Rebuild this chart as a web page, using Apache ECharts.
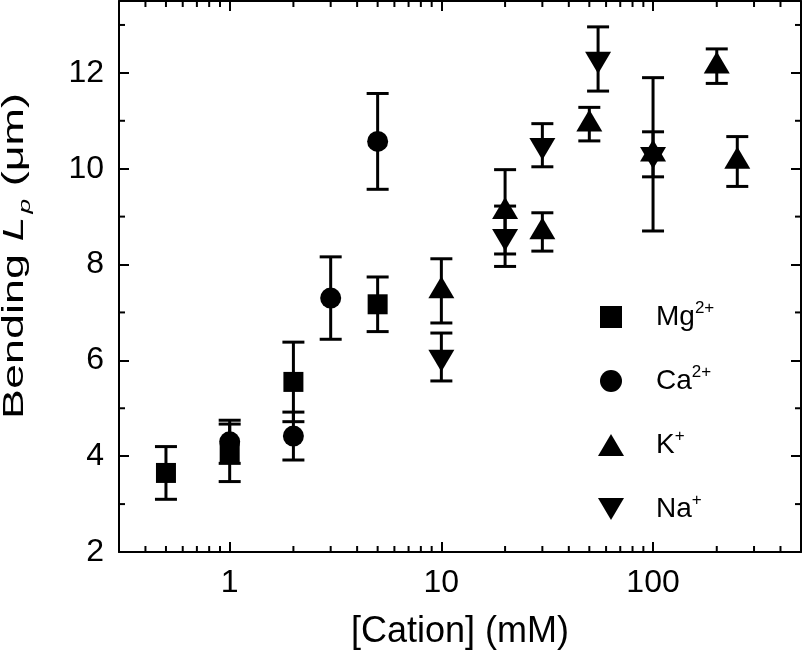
<!DOCTYPE html>
<html><head><meta charset="utf-8">
<script src="https://cdn.jsdelivr.net/npm/echarts@6/dist/echarts.min.js"></script>
<style>html,body{margin:0;padding:0;background:#fff}#c{width:805px;height:657px}</style>
</head><body><div id="c"></div>
<script>
// ---- data ----
const mgX = [0.5, 1, 2, 5];
const mgY = [3.65, 4.07, 5.55, 7.17];
const mgErr = [0.55, 0.6, 0.83, 0.57];

const caX = [1, 2, 3, 5];
const caY = [4.3, 4.42, 7.3, 10.57];
const caErr = [0.45, 0.5, 0.86, 1.0];

const kX = [10, 20, 30, 50, 100, 200, 250];
const kY = [7.45, 9.1, 8.68, 10.93, 10.3, 12.14, 10.15];
const kErr = [0.67, 0.88, 0.4, 0.35, 0.47, 0.36, 0.52];

const naX = [10, 20, 30, 55, 100];
const naY = [6.07, 8.59, 10.49, 12.29, 10.3];
const naErr = [0.5, 0.63, 0.45, 0.67, 1.6];

const seriesNames = ['Mg2+', 'Ca2+', 'K+', 'Na+'];
const xMinorTicks = [0.4,0.5,0.6,0.7,0.8,0.9, 2,3,4,5,6,7,8,9, 20,30,40,50,60,70,80,90, 200,300,400];
const yMinorTicks = [3, 5, 7, 9, 11, 13];

// ---- styling helpers ----
const FONT = '"Liberation Sans", Arial, Helvetica, sans-serif';
const BLACK = '#000';
const SQUARE = 'path://M0,0H10V10H0Z';
const CIRCLE = 'path://M0,10A10,10,0,1,1,20,10A10,10,0,1,1,0,10Z';
const UP = 'path://M13,0L26,22H0Z';
const DOWN = 'path://M0,0H26L13,22Z';

function pts(xs, ys) { return xs.map((x, i) => [x, ys[i]]); }
function errs(xs, ys, es) { return xs.map((x, i) => [x, ys[i] - es[i], ys[i] + es[i]]); }

function errRender(params, api) {
  const x = api.value(0), lo = api.value(1), hi = api.value(2);
  const p1 = api.coord([x, hi]), p2 = api.coord([x, lo]);
  const cw = 11, st = { stroke: BLACK, lineWidth: 3 };
  return { type: 'group', children: [
    { type: 'line', shape: { x1: p1[0], y1: p1[1], x2: p2[0], y2: p2[1] }, style: st },
    { type: 'line', shape: { x1: p1[0] - cw, y1: p1[1], x2: p1[0] + cw, y2: p1[1] }, style: st },
    { type: 'line', shape: { x1: p2[0] - cw, y1: p2[1], x2: p2[0] + cw, y2: p2[1] }, style: st }
  ]};
}
function xMinorRender(params, api) {
  const cs = params.coordSys;
  const px = api.coord([api.value(0), api.value(1)])[0];
  const st = { stroke: BLACK, lineWidth: 2 };
  const b = cs.y + cs.height, t = cs.y;
  return { type: 'group', children: [
    { type: 'line', shape: { x1: px, y1: b, x2: px, y2: b - 6 }, style: st },
    { type: 'line', shape: { x1: px, y1: t, x2: px, y2: t + 6 }, style: st }
  ]};
}
function yMinorRender(params, api) {
  const cs = params.coordSys;
  const py = api.coord([api.value(0), api.value(1)])[1];
  const st = { stroke: BLACK, lineWidth: 2 };
  const l = cs.x, r = cs.x + cs.width;
  return { type: 'group', children: [
    { type: 'line', shape: { x1: l, y1: py, x2: l + 6, y2: py }, style: st },
    { type: 'line', shape: { x1: r, y1: py, x2: r - 6, y2: py }, style: st }
  ]};
}

const baseX = {
  type: 'log', logBase: 10, min: 0.3, max: 500,
  axisLine: { show: true, lineStyle: { color: BLACK, width: 2 } },
  axisTick: { show: true, inside: true, length: 10, lineStyle: { color: BLACK, width: 2 } },
  splitLine: { show: false }, minorTick: { show: false }
};
const baseY = {
  type: 'value', min: 2, max: 13.5, interval: 2,
  axisLine: { show: true, lineStyle: { color: BLACK, width: 2 } },
  axisTick: { show: true, inside: true, length: 10, lineStyle: { color: BLACK, width: 2 } },
  splitLine: { show: false }, minorTick: { show: false }
};
const markerStyle = { color: BLACK, opacity: 1 };

const chart = echarts.init(document.getElementById('c'), null, { renderer: 'canvas' });
chart.setOption({
  animation: false,
  backgroundColor: '#fff',
  grid: { left: 119, top: 1, width: 682, height: 551, containLabel: false, outerBoundsMode: 'none' },
  xAxis: [
    Object.assign({}, baseX, {
      position: 'bottom',
      axisLabel: { show: true, color: BLACK, fontSize: 32, fontFamily: FONT, margin: 15, showMinLabel: false, showMaxLabel: false },
      name: '[Cation] (mM)', nameLocation: 'middle', nameGap: 62, nameMoveOverlap: false,
      nameTextStyle: { color: BLACK, fontSize: 36, fontFamily: FONT }
    }),
    Object.assign({}, baseX, { position: 'top', axisLabel: { show: false } })
  ],
  yAxis: [
    Object.assign({}, baseY, {
      position: 'left',
      axisLabel: { show: true, color: BLACK, fontSize: 32, fontFamily: FONT, margin: 15, showMaxLabel: false }
    }),
    Object.assign({}, baseY, { position: 'right', axisLabel: { show: false } })
  ],
  graphic: [{
    type: 'text', x: 15, y: 256, rotation: Math.PI / 2, scaleX: 1.55, silent: true,
    style: {
      text: 'Bending {i|L}{sub|p} (\u03bcm)', fill: BLACK, font: '29px ' + FONT,
      align: 'center', verticalAlign: 'middle',
      rich: { i: { fontSize: 29, fontStyle: 'italic', fontFamily: FONT, fill: BLACK },
              sub: { fontSize: 17, fontStyle: 'italic', fontFamily: FONT, fill: BLACK, verticalAlign: 'bottom', padding: [0, 0, -4, 2] } }
    }
  }],
  legend: {
    orient: 'vertical', left: 598, top: 300, padding: 0,
    itemWidth: 80, itemHeight: 22, itemGap: 30, symbolKeepAspect: true,
    selectedMode: false,
    data: [
      { name: seriesNames[0], icon: SQUARE },
      { name: seriesNames[1], icon: CIRCLE },
      { name: seriesNames[2], icon: UP },
      { name: seriesNames[3], icon: DOWN }
    ],
    itemStyle: { opacity: 1 },
    formatter: n => n.replace(/^([A-Za-z]+)(.*)$/, '$1{sup|$2}'),
    textStyle: { color: BLACK, fontSize: 28, fontFamily: FONT, lineHeight: 34,
      rich: { sup: { fontSize: 17, fontFamily: FONT, color: BLACK, verticalAlign: 'top', lineHeight: 17 } } }
  },
  series: [
    { type: 'custom', name: 'xminor', renderItem: xMinorRender, data: xMinorTicks.map(v => [v, 2]), silent: true, clip: false, z: 1 },
    { type: 'custom', name: 'yminor', renderItem: yMinorRender, data: yMinorTicks.map(v => [1, v]), silent: true, clip: false, z: 1 },
    { type: 'custom', name: 'mgErr', renderItem: errRender, data: errs(mgX, mgY, mgErr), encode: { x: 0, y: [1, 2] }, silent: true, z: 2 },
    { type: 'custom', name: 'caErr', renderItem: errRender, data: errs(caX, caY, caErr), encode: { x: 0, y: [1, 2] }, silent: true, z: 2 },
    { type: 'custom', name: 'kErr', renderItem: errRender, data: errs(kX, kY, kErr), encode: { x: 0, y: [1, 2] }, silent: true, z: 2 },
    { type: 'custom', name: 'naErr', renderItem: errRender, data: errs(naX, naY, naErr), encode: { x: 0, y: [1, 2] }, silent: true, z: 2 },
    { type: 'scatter', name: seriesNames[0], data: pts(mgX, mgY), symbol: 'rect', symbolSize: 20, itemStyle: markerStyle, z: 3 },
    { type: 'scatter', name: seriesNames[1], data: pts(caX, caY), symbol: 'circle', symbolSize: 21, itemStyle: markerStyle, z: 3 },
    { type: 'scatter', name: seriesNames[2], data: pts(kX, kY), symbol: UP, symbolSize: [26, 22], symbolOffset: [0, -3.7], itemStyle: markerStyle, z: 3 },
    { type: 'scatter', name: seriesNames[3], data: pts(naX, naY), symbol: DOWN, symbolSize: [26, 22], symbolOffset: [0, 3.7], itemStyle: markerStyle, z: 3 }
  ]
});
</script>
</body></html>
